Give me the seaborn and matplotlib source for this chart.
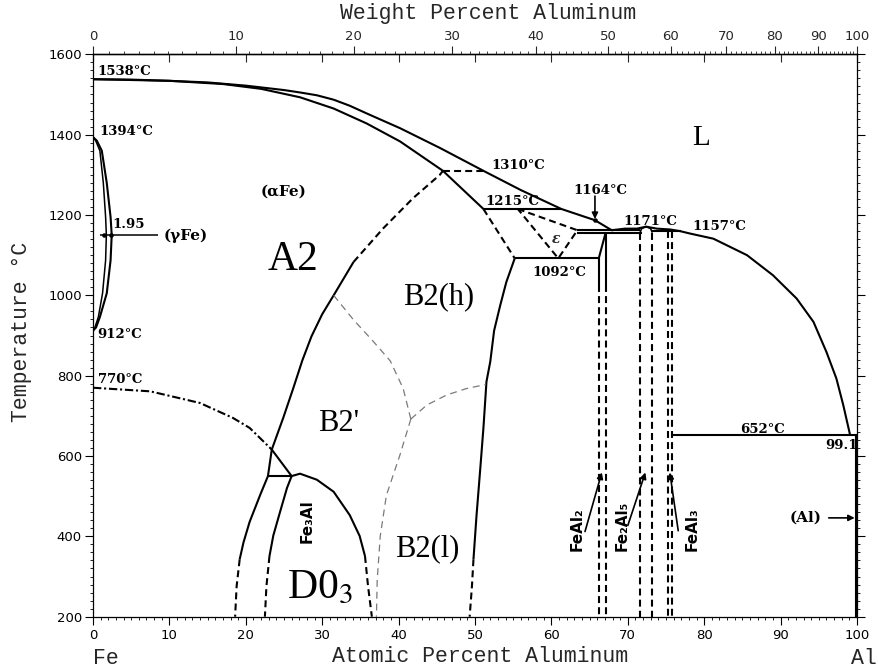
import numpy as np
import matplotlib
matplotlib.use("Agg")
import matplotlib.pyplot as plt
import seaborn as sns
from matplotlib.ticker import MultipleLocator, FixedLocator, NullLocator

# ---------------- data (at.% Al, temperature in degC) ----------------
liq_at = [0, 5, 10, 15, 20, 25, 27.1, 29.3, 31.5, 33.6, 35.8, 40.2, 45.4, 51.1, 56.0, 61.3, 65.7, 67.9,
          69.6, 71.2, 72.4, 73.8, 75.5, 76.8, 78.1, 81.2, 85.6, 89.0, 92.1, 94.3, 96.0, 97.3, 98.2, 99.1]
liq_T = [1538, 1537, 1534, 1530, 1522, 1511, 1505, 1498, 1487, 1472, 1453, 1416, 1367, 1310, 1262, 1215,
         1187, 1162, 1166, 1166, 1171, 1166, 1164, 1160, 1154, 1141, 1100, 1050, 992, 934, 859, 793, 727, 652]
sol_at = [0, 10, 17, 22, 27.1, 31.5, 35.8, 40.2, 45.8]
sol_T = [1538, 1534, 1526, 1514, 1493, 1465, 1428, 1383, 1310]

gout_at = [0, 0.5, 1.15, 1.8, 2.3, 2.45, 2.3, 1.8, 0.9, 0.4, 0]
gin_at = [0, 0.35, 0.9, 1.35, 1.65, 1.75, 1.65, 1.25, 0.7, 0.25, 0]
gloop_T = [1394, 1385, 1360, 1280, 1195, 1150, 1087, 1005, 946, 920, 912]

curie_at = [0, 7.5, 14.0, 18.3, 20.5, 23.4]
curie_T = [770, 761, 732, 695, 670, 616]

a2b2_at = [22.9, 23.4, 24.9, 26.2, 27.4, 28.6, 30.0, 31.5, 34.1]
a2b2_T = [550, 616, 695, 768, 838, 898, 953, 1000, 1083]
a2b2d_at = [34.1, 38.0, 41.9, 45.4, 45.8]
a2b2d_T = [1083, 1167, 1242, 1300, 1310]

tri_at = [23.4, 26.0]
tri_T = [616, 550]
h550_at = [22.9, 26.0]
h550_T = [550, 550]

d03r_at = [26.0, 27.1, 29.3, 31.5, 33.6, 34.9, 35.6]
d03r_T = [550, 556, 541, 511, 453, 401, 351]
d03rd_at = [35.6, 36.0, 36.5]
d03rd_T = [351, 276, 200]
d03l_at = [26.0, 25.4, 24.5, 23.6, 23.1]
d03l_T = [550, 521, 462, 402, 351]
d03ld_at = [23.1, 22.7, 22.5]
d03ld_T = [351, 276, 200]
a2d_at = [22.9, 21.9, 20.5, 19.7, 19.2]
a2d_T = [550, 504, 436, 385, 343]
a2dd_at = [19.2, 18.8, 18.6]
a2dd_T = [343, 276, 200]

b2r_at = [55.2, 54.1, 53.3, 52.5, 52.0, 51.5, 51.1, 50.7, 50.2, 49.8]
b2r_T = [1092, 1033, 975, 912, 835, 785, 669, 571, 452, 343]
b2rd_at = [49.8, 49.6, 49.3]
b2rd_T = [343, 276, 200]
b2top_at = [45.8, 51.1]
b2top_T = [1310, 1215]
b2mid_at = [51.1, 55.2]
b2mid_T = [1215, 1092]

h1310_at = [45.8, 51.1]
h1310_T = [1310, 1310]
h1215_at = [51.1, 61.3]
h1215_T = [1215, 1215]
h1092_at = [55.2, 66.2]
h1092_T = [1092, 1092]
eps_at = [55.6, 63.4, 60.9, 55.6]
eps_T = [1215, 1162, 1092, 1215]
h1163_at = [63.4, 71.6]
h1163_T = [1163, 1163]
h1156_at = [63.4, 71.8]
h1156_T = [1156, 1156]
h1160_at = [73.2, 77.0]
h1160_T = [1160, 1160]

feal2_slant_at = [66.2, 67.1]
feal2_slant_T = [1092, 1156]
feal2_x = [66.2, 67.1]
fe2al5_dome_at = [71.6, 71.8, 72.4, 73.0, 73.2]
fe2al5_dome_T = [1156, 1166, 1171, 1166, 1156]
fe2al5_x = [71.6, 73.2]
feal3_x = [75.3, 75.8]

h652_at = [75.8, 100]
h652_T = [652, 652]
al_at = [99.9, 99.9]
al_T = [652, 200]

g1_at = [31.5, 34.1, 36.7, 38.9, 40.6, 41.6]
g1_T = [1000, 939, 885, 837, 768, 692]
g2_at = [41.6, 40.2, 38.4, 37.6, 37.2, 37.1]
g2_T = [692, 604, 502, 401, 292, 200]
g3_at = [41.6, 43.7, 46.3, 48.9, 51.4]
g3_T = [692, 727, 752, 768, 778]

x_ticks = list(range(0, 101, 10))
y_ticks = list(range(200, 1601, 200))
wt_ticks = list(range(0, 101, 10))

# ---------------- style ----------------
sns.set_theme(style="white")
plt.rcParams["font.family"] = ["DejaVu Sans"]
plt.rcParams["lines.scale_dashes"] = False
plt.rcParams["mathtext.fontset"] = "stix"

W, H = 879, 670
fig = plt.figure(figsize=(W / 100, H / 100), dpi=100)
ax = fig.add_axes([93 / W, (H - 616.7) / H, (857 - 93) / W, (616.7 - 54.3) / H])
ax.set_facecolor("white")

LW = 1.5
DASH = (5, 3)
THIN = (5, 3.5)


def draw(xs, ys, lw=LW, color="black", dashes=None):
    sns.lineplot(x=xs, y=ys, ax=ax, sort=False, estimator=None, color=color,
                 linewidth=lw, legend=False)
    line = ax.lines[-1]
    if dashes is not None:
        line.set_dashes(dashes)
    line.set_solid_capstyle("butt")
    return line


# solid boundaries
draw(liq_at, liq_T)
draw(sol_at, sol_T)
draw(gout_at, gloop_T)
draw(gin_at, gloop_T, lw=1.1)
draw([0.9, 8.5], [1150, 1150], lw=1.1)
draw(curie_at, curie_T, dashes=(6, 2, 1.5, 2))
draw(a2b2_at, a2b2_T)
draw(a2b2d_at, a2b2d_T, dashes=DASH)
draw(tri_at, tri_T)
draw(h550_at, h550_T)
draw(d03r_at, d03r_T)
draw(d03rd_at, d03rd_T, dashes=DASH)
draw(d03l_at, d03l_T)
draw(d03ld_at, d03ld_T, dashes=DASH)
draw(a2d_at, a2d_T)
draw(a2dd_at, a2dd_T, dashes=DASH)
draw(b2r_at, b2r_T)
draw(b2rd_at, b2rd_T, dashes=DASH)
draw(b2top_at, b2top_T)
draw(b2mid_at, b2mid_T, dashes=DASH)
draw(h1310_at, h1310_T, dashes=DASH)
draw(h1215_at, h1215_T)
draw(h1092_at, h1092_T)
draw(eps_at, eps_T, dashes=DASH)
draw(h1163_at, h1163_T)
draw(h1156_at, h1156_T)
draw(h1160_at, h1160_T)
draw(feal2_slant_at, feal2_slant_T)
draw([feal2_x[0], feal2_x[0]], [1092, 1025])
draw([feal2_x[0], feal2_x[0]], [1025, 200], dashes=DASH)
draw([feal2_x[1], feal2_x[1]], [1156, 1025])
draw([feal2_x[1], feal2_x[1]], [1025, 200], dashes=DASH)
draw(fe2al5_dome_at, fe2al5_dome_T, lw=1.2)
for xv in fe2al5_x:
    draw([xv, xv], [1156, 200], dashes=DASH)
for xv in feal3_x:
    draw([xv, xv], [1160, 200], dashes=DASH)
draw(h652_at, h652_T)
draw(al_at, al_T)

# thin grey ordering lines
for xs, ys in [(g1_at, g1_T), (g2_at, g2_T), (g3_at, g3_T)]:
    draw(xs, ys, lw=0.9, color="#7a7a7a", dashes=THIN)

# markers
sns.scatterplot(x=[1.5, 2.3, 65.7], y=[1150, 1150, 1187], ax=ax, color="black", s=9,
                edgecolor="black", legend=False, zorder=5)

# ---------------- axes / ticks ----------------
ax.set_xlim(0, 100)
ax.set_ylim(200, 1600)
ax.set_xlabel("")
ax.set_ylabel("")
ax.set_xticks(x_ticks)
ax.set_yticks(y_ticks)
ax.xaxis.set_minor_locator(MultipleLocator(1))
ax.yaxis.set_minor_locator(MultipleLocator(20))
ax.tick_params(axis="x", which="both", direction="out", bottom=True, top=False, colors="black",
               labelsize=9.5, pad=3)
ax.tick_params(axis="y", which="both", direction="out", left=True, right=True, colors="black",
               labelsize=9.5, pad=2)
ax.tick_params(which="major", length=6, width=0.8)
ax.tick_params(which="minor", length=2.5, width=0.6)
for s in ax.spines.values():
    s.set_visible(True)
    s.set_color("black")
    s.set_linewidth(0.9)
ax.grid(False)


def at2wt(a):
    a = np.asarray(a, dtype=float)
    return 100.0 * a * 26.98 / (a * 26.98 + (100.0 - a) * 55.845)


def wt2at(w):
    w = np.asarray(w, dtype=float)
    return 100.0 * (w / 26.98) / (w / 26.98 + (100.0 - w) / 55.845)


sec_in = ax.secondary_xaxis("top")
sec_in.set_xticks(x_ticks)
sec_in.xaxis.set_minor_locator(NullLocator())
sec_in.tick_params(direction="in", length=6, width=0.8, labeltop=False)
sec_in.spines["top"].set_linewidth(0.9)

sec_wt = ax.secondary_xaxis("top", functions=(at2wt, wt2at))
sec_wt.set_xticks(wt_ticks)
sec_wt.xaxis.set_minor_locator(FixedLocator(list(range(0, 101))))
sec_wt.tick_params(which="major", direction="out", length=6, width=0.8, labelsize=9.5, pad=2)
sec_wt.tick_params(which="minor", direction="out", length=2.5, width=0.6)
sec_wt.spines["top"].set_linewidth(0.9)

# ---------------- texts ----------------
MONO = ["Liberation Mono", "DejaVu Sans Mono"]
fig.text(480 / W, 1 - 657 / H, "Atomic Percent Aluminum", family=MONO, fontsize=15.5,
         ha="center", va="center")
fig.text(488 / W, 1 - 14 / H, "Weight Percent Aluminum", family=MONO, fontsize=15.5,
         ha="center", va="center")
fig.text(22 / W, 1 - 332 / H, "Temperature °C", family=MONO, fontsize=15.5,
         ha="center", va="center", rotation=90)
fig.text(93 / W, 1 - 659 / H, "Fe", family=MONO, fontsize=15.5, ha="left", va="center")
fig.text(877 / W, 1 - 659 / H, "Al", family=MONO, fontsize=15.5, ha="right", va="center")

ANN = dict(family=["DejaVu Serif"], fontweight="bold", fontsize=9.5, color="black")
PH = dict(family=["DejaVu Serif"], fontweight="bold", fontsize=11, color="black")
ax.text(0.6, 1557, "1538°C", ha="left", va="center", **ANN)
ax.text(0.8, 1409, "1394°C", ha="left", va="center", **ANN)
ax.text(2.5, 1177, "1.95", ha="left", va="center", **ANN)
ax.text(9.2, 1147, "(γFe)", ha="left", va="center", **PH)
ax.text(0.5, 902, "912°C", ha="left", va="center", **ANN)
ax.text(0.65, 791, "770°C", ha="left", va="center", **ANN)
ax.text(24.9, 1259, "(αFe)", ha="center", va="center", **PH)
ax.text(52.2, 1322, "1310°C", ha="left", va="center", **ANN)
ax.text(51.3, 1234, "1215°C", ha="left", va="center", **ANN)
ax.text(57.5, 1057, "1092°C", ha="left", va="center", **ANN)
ax.text(66.4, 1262, "1164°C", ha="center", va="center", **ANN)
ax.text(72.9, 1184, "1171°C", ha="center", va="center", **ANN)
ax.text(78.4, 1172, "1157°C", ha="left", va="center", **ANN)
ax.text(87.6, 667, "652°C", ha="center", va="center", **ANN)
ax.text(98.0, 627, "99.1", ha="center", va="center", **ANN)
ax.text(93.3, 446, "(Al)", ha="center", va="center", **PH)
ax.text(60.6, 1139, "ε", ha="center", va="center", family=["DejaVu Serif"], fontsize=10,
        fontstyle="italic", fontweight="bold")

SER = dict(family=["Liberation Serif"], color="black")
ax.text(22.9, 1062, "A2", ha="left", va="baseline", fontsize=30, **SER)
ax.text(40.6, 979, "B2(h)", ha="left", va="baseline", fontsize=22, **SER)
ax.text(29.5, 662, "B2'", ha="left", va="baseline", fontsize=22, **SER)
ax.text(39.5, 350, "B2(l)", ha="left", va="baseline", fontsize=22, **SER)
ax.text(25.4, 247, "D0$_3$", ha="left", va="baseline", fontsize=30, **SER)
ax.text(78.4, 1374, "L", ha="left", va="baseline", fontsize=21, **SER)

ROT = dict(family=["DejaVu Sans"], fontweight="bold", fontsize=11, rotation=90,
           ha="center", va="center", color="black")
ax.text(28.0, 437, "Fe₃Al", **ROT)
ax.text(63.4, 419, "FeAl₂", **ROT)
ax.text(69.2, 427, "Fe₂Al₅", **ROT)
ax.text(78.4, 419, "FeAl₃", **ROT)

AP = dict(arrowstyle="-|>", color="black", lw=1.2, mutation_scale=9, shrinkA=0, shrinkB=0)
ax.annotate("", xy=(65.7, 1190), xytext=(65.7, 1247), arrowprops=AP)
ax.annotate("", xy=(66.6, 559), xytext=(64.4, 412), arrowprops=AP)
ax.annotate("", xy=(72.3, 559), xytext=(70.0, 427), arrowprops=AP)
ax.annotate("", xy=(75.5, 559), xytext=(76.6, 414), arrowprops=AP)
ax.annotate("", xy=(99.7, 446), xytext=(96.3, 446), arrowprops=AP)

fig.savefig("out.png", dpi=100, facecolor="white")
